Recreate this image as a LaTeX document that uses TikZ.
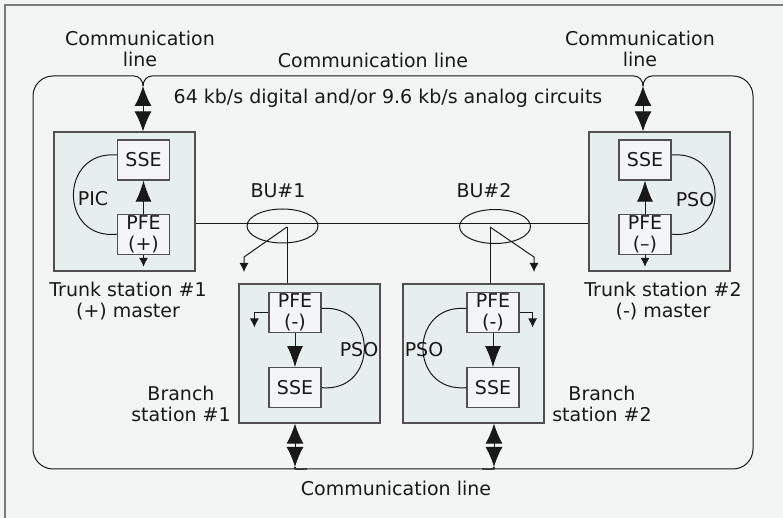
\documentclass[tikz,border=0pt]{standalone}
\usepackage{fontspec}
\setmainfont{DejaVu Sans}
\usetikzlibrary{shapes.geometric, arrows.meta, positioning, calc}

\definecolor{paper}{HTML}{F2F5F4}
\definecolor{stationfill}{HTML}{E7EFEE}
\definecolor{unitfill}{HTML}{F3F5F9}
\definecolor{framegray}{HTML}{7B7B7B}
\definecolor{edgegray}{HTML}{505050}

\begin{document}
\begin{tikzpicture}[
    x=0.5pt, y=-0.5pt,
    every node/.style={font=\fontsize{9.5}{10.5}\selectfont, text=black!90},
    caption/.style={align=center},
    stationbox/.style={rectangle, draw=edgegray, fill=stationfill, line width=0.6pt, minimum width=70.5pt, minimum height=69.5pt, inner sep=0pt},
    unitbox/.style={rectangle, draw=edgegray, fill=unitfill, line width=0.6pt, minimum width=26pt, minimum height=20pt, inner sep=0pt, align=center},
    line/.style={line width=0.5pt, draw=black!90},
    bigarrow/.style={line, {Latex[length=10pt, width=8.5pt]}-{Latex[length=10pt, width=8.5pt]}},
    feedarrow/.style={line, -{Latex[length=10.5pt, width=8pt]}},
    droparrow/.style={line, -{Latex[length=4.5pt, width=4.5pt]}},
    bu/.style={ellipse, draw=black!90, line width=0.5pt, minimum width=35.5pt, minimum height=17pt, inner sep=0pt}
]

\useasboundingbox (0,0) rectangle (783,518);
\fill[paper] (0,0) rectangle (783,518);
\draw[framegray, line width=1pt] (5,518) -- (5,5) -- (783,5);

% Stations
\node[stationbox] (ts1) at (124.5,201.5) {};
\node[stationbox] (ts2) at (659.5,201.5) {};
\node[stationbox] (bs1) at (309.5,353.5) {};
\node[stationbox] (bs2) at (473.5,353.5) {};

% Trunk station #1
\node[unitbox] (sse1) at (143.5,160) {SSE};
\node[unitbox, below=16.5pt of sse1] (pfe1) {PFE\\(+)};

% Trunk station #2
\node[unitbox] (sse2) at (645,160) {SSE};
\node[unitbox, below=16.5pt of sse2] (pfe2) {PFE\\(--)};

% Branch stations
\node[unitbox] (pfe3) at (295,312.5) {PFE\\(-)};
\node[unitbox, below=17pt of pfe3] (sse3) {SSE};
\node[unitbox] (pfe4) at (493,312.5) {PFE\\(-)};
\node[unitbox, below=17pt of pfe4] (sse4) {SSE};

% Branching units
\node[bu] (bu1) at (282.5,226) {};
\node[bu] (bu2) at (495,226.5) {};

% Communication line loop
\coordinate (j1) at (143,86);
\coordinate (j2) at (643,86);
\coordinate (j3) at (295,467);
\coordinate (j4) at (494,467);

\draw[line] (j1) to[out=90, in=0] (134,76) {[rounded corners=10pt] -- (33,76) -- (33,469) -- (287,469)} to[out=0, in=-90] (j3);
\draw[line] (j1) to[out=90, in=180] (152,76) -- (634,76) to[out=0, in=90] (j2);
\draw[line] (j2) to[out=90, in=180] (652,76) {[rounded corners=10pt] -- (753,76) -- (753,469) -- (502,469)} to[out=180, in=-90] (j4);
\draw[line] (j3) to[out=-90, in=180] (303,469) -- (486,469) to[out=0, in=-90] (j4);

\draw[bigarrow] (j1) -- (j1 |- ts1.north);
\draw[bigarrow] (j2) -- (j2 |- ts2.north);
\draw[bigarrow] (j3 |- bs1.south) -- (j3);
\draw[bigarrow] (j4 |- bs2.south) -- (j4);

% Trunk line and taps
\coordinate (hl) at (0,224);
\draw[line] (ts1.east |- hl) -- (ts2.west |- hl);

\coordinate (tap1) at (287,227);
\coordinate (drop1) at (244,257);
\draw[line] (tap1) -- (tap1 |- bs1.north);
\draw[droparrow] (tap1) -- (drop1) -- ++(0,15);

\coordinate (tap2) at (490,227);
\coordinate (drop2) at (534,257);
\draw[line] (tap2) -- (tap2 |- bs2.north);
\draw[droparrow] (tap2) -- (drop2) -- ++(0,15);

% Inside the stations
\draw[feedarrow] (pfe1) -- (sse1);
\draw[feedarrow] (pfe2) -- (sse2);
\draw[feedarrow] (pfe3) -- (sse3);
\draw[feedarrow] (pfe4) -- (sse4);

\draw[droparrow] (pfe1.south) -- ++(0,12);
\draw[droparrow] (pfe2.south) -- ++(0,12);
\draw[droparrow] (pfe3.west) -- ++(-14,0) -- ++(0,15);
\draw[droparrow] (pfe4.east) -- ++(13,0) -- ++(0,15);

\draw[line] ([yshift=2.5pt]sse1.west) .. controls +(-58,-5) and +(-58,6) .. (pfe1.west);
\draw[line] ([yshift=2.5pt]sse2.east) .. controls +(58,-5) and +(58,6) .. (pfe2.east);
\draw[line] ([yshift=2pt]pfe3.east) .. controls +(57,-5) and +(57,5) .. (sse3.east);
\draw[line] ([yshift=2pt]pfe4.west) .. controls +(-58,-5) and +(-58,5) .. (sse4.west);

% Labels
\node[caption] (cl1) at (140,49) {Communication\\line};
\node (cl2) at (373,60) {Communication line};
\node[caption] (cl3) at (640,49) {Communication\\line};
\node (rate) at (388,98) {64 kb/s digital and/or 9.6 kb/s analog circuits};
\node (cl4) at (396,488) {Communication line};

\node[caption] (tl1) at (128,301) {Trunk station \#1\\(+) master};
\node[caption] (tl2) at (663,301) {Trunk station \#2\\(-) master};
\node[caption] (bl1) at (181,404) {Branch\\station \#1};
\node[caption] (bl2) at (602,404) {Branch\\station \#2};

\node (bul1) at (278,190.5) {BU\#1};
\node (bul2) at (484,190.5) {BU\#2};
\node (pic) at (93,199) {PIC};
\node (pso2) at (695,200) {PSO};
\node (pso3) at (359,349.5) {PSO};
\node (pso4) at (424,349.5) {PSO};

\end{tikzpicture}
\end{document}
